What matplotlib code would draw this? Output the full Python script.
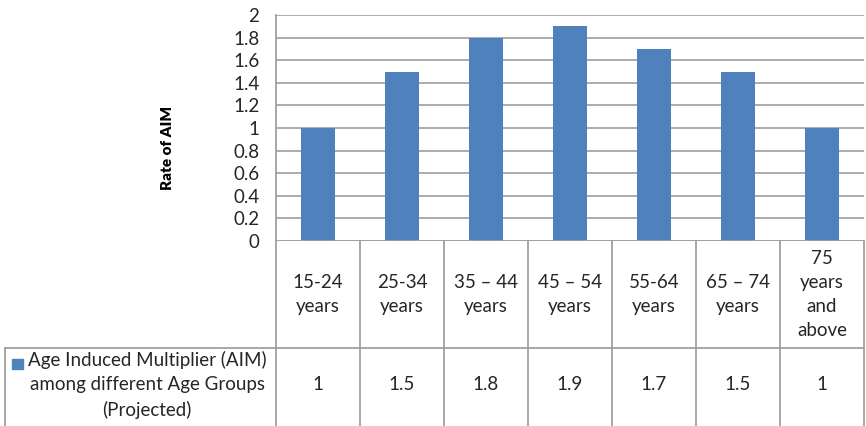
import numpy as np
import matplotlib
matplotlib.use('Agg')
from matplotlib import pyplot as plt

categories = ['15-24\nyears', '25-34\nyears', '35 \u2013 44\nyears', '45 \u2013 54\nyears',
              '55-64\nyears', '65 \u2013 74\nyears', '75\nyears\nand\nabove']
values = [1, 1.5, 1.8, 1.9, 1.7, 1.5, 1]
value_labels = ['1', '1.5', '1.8', '1.9', '1.7', '1.5', '1']
series_name = 'Age Induced Multiplier (AIM)\namong different Age Groups\n(Projected)'
y_ticks = [0, 0.2, 0.4, 0.6, 0.8, 1, 1.2, 1.4, 1.6, 1.8, 2]
y_ticklabels = ['0', '0.2', '0.4', '0.6', '0.8', '1', '1.2', '1.4', '1.6', '1.8', '2']

plt.rcParams['font.family'] = ['Lato', 'DejaVu Sans']
W, H = 866, 426
fig = plt.figure(figsize=(W / 100, H / 100), dpi=100)

# plot area in pixels
x0, x1, ytop, ybot = 276, 864, 15, 241
ax = fig.add_axes([x0 / W, 1 - ybot / H, (x1 - x0) / W, (ybot - ytop) / H])

bar_color = '#4f81bd'
grid_color = '#a6a6a6'
line_color = '#a0a0a0'
text_color = '#262626'
fs = 13.5

x = np.arange(len(values))
ax.bar(x, values, width=0.4, color=bar_color, zorder=3)
ax.set_xlim(-0.5, len(values) - 0.5)
ax.set_ylim(0, 2)
ax.set_yticks(y_ticks)
ax.set_yticklabels(y_ticklabels, fontsize=fs, color=text_color)
ax.tick_params(axis='y', length=0, pad=12)
ax.set_xticks([])
ax.yaxis.grid(True, color=grid_color, linewidth=1.3, zorder=0)
for s in ['top', 'right', 'bottom']:
    ax.spines[s].set_visible(False)
ax.spines['left'].set_color(line_color)
ax.spines['left'].set_linewidth(1.3)

fig.text(167 / W, 1 - 148 / H, 'Rate of AIM', rotation=90, ha='center', va='center',
         fontsize=11, fontweight='heavy')

# data table below the plot
ph = ybot - ytop
def ay(p):
    return (ybot - p) / ph

row_line = 348
xt = ax.get_xaxis_transform()
for k in range(len(values) + 1):
    ax.plot([k - 0.5, k - 0.5], [0, ay(H + 5)], color=line_color, lw=1.3,
            clip_on=False, transform=xt)
ax.plot([0, 1], [ay(row_line)] * 2, color=line_color, lw=1.3, clip_on=False,
        transform=ax.transAxes)
ax.axhline(0, color=line_color, lw=1.3, zorder=4)

# left legend cell
fig.add_artist(plt.Line2D([5 / W, x0 / W], [1 - row_line / H] * 2, color=line_color, lw=1.3))
fig.add_artist(plt.Line2D([5 / W, 5 / W], [1 - row_line / H, 0], color=line_color, lw=1.3))

for i, (c, v) in enumerate(zip(categories, value_labels)):
    ax.text(i, ay((ybot + row_line) / 2), c, ha='center', va='center', fontsize=fs,
            linespacing=1.5, transform=xt, clip_on=False, color=text_color)
    ax.text(i, ay(385), v, ha='center', va='center', fontsize=fs,
            transform=xt, clip_on=False, color=text_color)

fig.add_artist(plt.Rectangle((12 / W, 1 - 369 / H), 11 / W, 10 / H, color=bar_color))
fig.text(147 / W, 1 - 385 / H, series_name, ha='center', va='center', fontsize=fs,
         linespacing=1.5, color=text_color)

fig.savefig('out.png', dpi=100)
